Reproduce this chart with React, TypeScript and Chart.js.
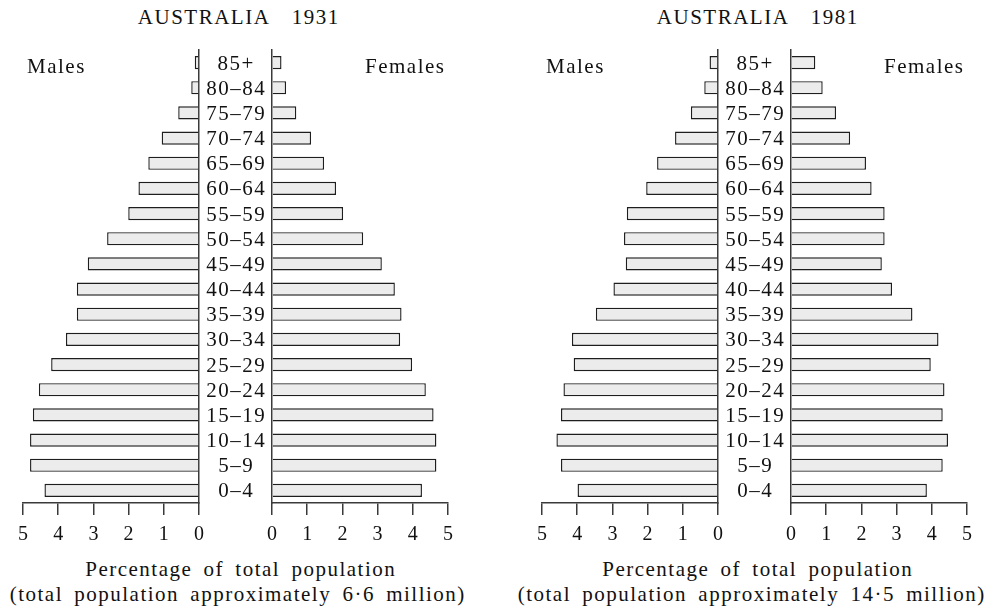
import React, { useEffect, useRef } from 'react';
import { Chart, registerables } from 'chart.js';

Chart.register(...registerables);

// ---- data (top row = oldest group) ----
const ageGroups = ['85+', '80–84', '75–79', '70–74', '65–69', '60–64', '55–59', '50–54', '45–49', '40–44', '35–39', '30–34', '25–29', '20–24', '15–19', '10–14', '5–9', '0–4'];
const males1931 = [0.12, 0.22, 0.59, 1.06, 1.44, 1.72, 2.01, 2.61, 3.16, 3.47, 3.47, 3.78, 4.2, 4.55, 4.72, 4.8, 4.8, 4.39];
const females1931 = [0.27, 0.4, 0.69, 1.11, 1.48, 1.82, 2.02, 2.59, 3.12, 3.49, 3.68, 3.64, 3.98, 4.37, 4.59, 4.67, 4.67, 4.26];
const males1981 = [0.24, 0.39, 0.77, 1.22, 1.73, 2.04, 2.59, 2.67, 2.62, 2.97, 3.47, 4.15, 4.1, 4.39, 4.46, 4.59, 4.46, 3.99];
const females1981 = [0.69, 0.9, 1.28, 1.68, 2.13, 2.29, 2.66, 2.66, 2.58, 2.87, 3.45, 4.19, 3.97, 4.36, 4.31, 4.46, 4.31, 3.86];
const xTickValues = [0, 1, 2, 3, 4, 5];
const panelTitles = ['AUSTRALIA  1931', 'AUSTRALIA  1981'];
const axisLine1 = 'Percentage of total population';
const axisLine2 = ['(total population approximately 6·6 million)', '(total population approximately 14·5 million)'];

const FONT = "'Liberation Serif', 'Times New Roman', serif";
const INK = '#111';
const AXIS = '#3a3a3a';

const agePlugin = {
  id: 'ageLabels',
  afterDraw(chart: any) {
    const y = chart.scales.y;
    const ctx = chart.ctx;
    ctx.save();
    ctx.font = `21px ${FONT}`;
    ctx.fillStyle = INK;
    ctx.textAlign = 'center';
    ctx.textBaseline = 'alphabetic';
    try { (ctx as any).letterSpacing = '1.5px'; } catch (e) {}
    const cx = (y.left + y.right) / 2 + 0.75;
    ageGroups.forEach((lab, i) => {
      ctx.fillText(lab, cx, y.getPixelForValue(i) + 7);
    });
    ctx.restore();
  },
};

function makeChart(canvas: HTMLCanvasElement, values: number[], isMale: boolean) {
  return new Chart(canvas, {
    type: 'bar',
    data: {
      labels: ageGroups,
      datasets: [{
        data: values,
        backgroundColor: '#ececec',
        borderColor: '#1e1e1e',
        borderWidth: 1.4,
        barPercentage: 0.52,
        categoryPercentage: 1,
      }],
    },
    options: {
      indexAxis: 'y',
      animation: false,
      responsive: false,
      maintainAspectRatio: false,
      devicePixelRatio: 1,
      events: [],
      layout: {
        padding: isMale
          ? { left: 23, right: 16, top: 10, bottom: 0 }
          : { left: 0, right: 17, top: 10, bottom: 0 },
      },
      plugins: {
        legend: { display: false },
        tooltip: { enabled: false },
        title: { display: false },
      },
      scales: {
        x: {
          type: 'linear',
          min: 0,
          max: 5,
          reverse: isMale,
          position: 'bottom',
          afterBuildTicks: (s: any) => { s.ticks = xTickValues.map((v) => ({ value: v })); },
          afterFit: (s: any) => { s.height = 50; },
          grid: { drawOnChartArea: false, drawTicks: true, tickLength: 12, color: AXIS, lineWidth: 1.5 },
          border: { display: true, color: AXIS, width: 1.5 },
          ticks: { font: { family: FONT, size: 20 }, color: INK, padding: 8, maxRotation: 0, autoSkip: false },
        },
        y: {
          type: 'category',
          position: isMale ? 'right' : 'left',
          offset: true,
          afterFit: (s: any) => { s.width = isMale ? 0 : 73; },
          grid: { display: false },
          border: { display: true, color: AXIS, width: 1.5 },
          ticks: { display: false },
        },
      },
    } as any,
    plugins: isMale ? [] : [agePlugin],
  });
}

const textBase: React.CSSProperties = {
  position: 'absolute',
  fontFamily: FONT,
  fontSize: 21,
  lineHeight: '21px',
  letterSpacing: '1.5px',
  wordSpacing: '4.5px',
  whiteSpace: 'pre',
  color: INK,
};

function Centered({ cx, top, text }: { cx: number; top: number; text: string }) {
  return (
    <div style={{ ...textBase, left: cx - 300 + 0.75, width: 600, top, textAlign: 'center' }}>{text}</div>
  );
}

export default function App() {
  const m1 = useRef<HTMLCanvasElement>(null);
  const f1 = useRef<HTMLCanvasElement>(null);
  const m2 = useRef<HTMLCanvasElement>(null);
  const f2 = useRef<HTMLCanvasElement>(null);

  useEffect(() => {
    const charts = [
      makeChart(m1.current!, males1931, true),
      makeChart(f1.current!, females1931, false),
      makeChart(m2.current!, males1981, true),
      makeChart(f2.current!, females1981, false),
    ];
    return () => charts.forEach((c) => c.destroy());
  }, []);

  const offsets = [0, 519];
  const maleRefs = [m1, m2];
  const femaleRefs = [f1, f2];
  const line1Centers = [240, 757];
  const line2Centers = [237, 751];

  return (
    <div style={{ position: 'absolute', left: 0, top: 0, width: 995, height: 610, background: '#fff', overflow: 'hidden' }}>
      {offsets.map((dx, p) => (
        <React.Fragment key={p}>
          <canvas ref={maleRefs[p]} width={215} height={513}
            style={{ position: 'absolute', left: dx, top: 40, width: 215, height: 513 }} />
          <canvas ref={femaleRefs[p]} width={266} height={513}
            style={{ position: 'absolute', left: dx + 199, top: 40, width: 266, height: 513 }} />
          <Centered cx={dx + 238} top={7} text={panelTitles[p]} />
          <div style={{ ...textBase, left: dx + 27, top: 56 }}>Males</div>
          <div style={{ ...textBase, left: dx + 365, top: 56 }}>Females</div>
          <Centered cx={line1Centers[p]} top={559} text={axisLine1} />
          <Centered cx={line2Centers[p]} top={584} text={axisLine2[p]} />
        </React.Fragment>
      ))}
    </div>
  );
}
